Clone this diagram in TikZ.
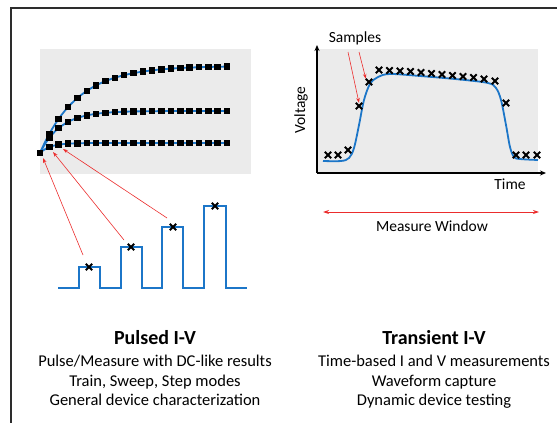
\documentclass[tikz,border=0pt]{standalone}
\usepackage{fontspec}
\setmainfont{Carlito}
\usetikzlibrary{arrows.meta,shapes.misc}
\definecolor{wave}{RGB}{28,118,200}
\definecolor{panel}{RGB}{235,235,235}
\definecolor{redline}{RGB}{235,45,45}
\definecolor{frame}{RGB}{45,45,45}
\begin{document}
\begin{tikzpicture}[x=1pt,y=-1pt,
  sq/.style={rectangle,fill=black,minimum size=6.5pt,inner sep=0pt},
  xm/.style={cross out,draw=black,line width=1.8pt,minimum size=4.5pt,inner sep=0pt},
  wline/.style={wave,line width=1.8pt},
  redarrow/.style={redline,line width=0.6pt,-{Stealth[length=5pt,width=3.5pt]}},
  body/.style={font=\fontsize{16.5}{19.5}\selectfont,align=center},
  ttl/.style={font=\bfseries\fontsize{20}{23}\selectfont},
  lbl/.style={font=\fontsize{15.5}{18}\selectfont}]
\useasboundingbox (0,0) rectangle (557,423);
% frame
\draw[frame,line width=2pt] (11,423) -- (11,8) -- (560,8);
% panels
\fill[panel] (40,49) rectangle (251,174);
\fill[panel] (316,49) rectangle (538,173);
% I-V curves
\draw[wline] plot[domain=0:20,samples=61] ({40+9.35*\x},{153-87*(1-exp(-0.25*\x))});
\draw[wline] plot[domain=0:20,samples=61] ({40+9.35*\x},{153-42*(1-exp(-0.45*\x))});
\draw[wline] plot[domain=0:20,samples=61] ({40+9.35*\x},{153-10*(1-exp(-0.9*\x))});
\foreach \i in {0,...,20}{
  \node[sq] (a\i) at ({40+9.35*\i},{153-87*(1-exp(-0.25*\i))}) {};
  \node[sq] (b\i) at ({40+9.35*\i},{153-42*(1-exp(-0.45*\i))}) {};
  \node[sq] (c\i) at ({40+9.35*\i},{153-10*(1-exp(-0.9*\i))}) {};
}
% pulse train
\draw[wline] (58,288) -- (79,288) -- (79,267) -- (100,267) -- (100,288)
  -- (121,288) -- (121,247) -- (142,247) -- (142,288)
  -- (162,288) -- (162,227) -- (183,227) -- (183,288)
  -- (204,288) -- (204,206) -- (226,206) -- (226,288) -- (247,288);
\node[xm] (p1) at (89,267) {};
\node[xm] (p2) at (131,247) {};
\node[xm] (p3) at (173,227) {};
\node[xm] (p4) at (215,206) {};
\coordinate (t1) at (43,158);
\coordinate (t2) at (53,152);
\coordinate (t3) at (63,149);
\draw[redarrow] (83,255) -- (t1);
\draw[redarrow] (124,240) -- (t2);
\draw[redarrow] (167,218) -- (t3);
% transient plot axes
\coordinate (org) at (317,173);
\coordinate (ytop) at (317,45);
\coordinate (xend) at (546,173);
\draw[black,line width=1.1pt,-{Stealth[length=6pt,width=5pt]}] (org) -- (ytop);
\draw[black,line width=1.1pt,-{Stealth[length=6pt,width=5pt]}] (org) -- (xend);
\node[lbl,rotate=90] (volt) at (301,110) {Voltage};
\node[lbl] (time) at (510,184) {Time};
% waveform
\draw[wline] plot[smooth,tension=0.55] coordinates {(323,161) (341,161) (349,158) (354,148) (359,125) (364,100) (370,84) (378,77) (390,74) (420,76) (460,79.5) (488,83) (496,88) (501,100) (506,125) (510,147) (514,157) (520,159) (538,160)};
% samples
\foreach \n/\px/\py in {1/328/155,2/338/155,3/348/150,4/359/106,5/369/82,
  6/379/70,7/389.5/70.5,8/400/71,9/410.5/71.5,10/421/72.5,11/431.5/73.5,12/442/74.5,13/452.5/75.5,14/463/76.5,15/473.5/77.5,16/484/79,17/495/81,
  18/506/103,19/516/155,20/526/155,21/537/155}{
  \node[xm] (s\n) at (\px,\py) {};
}
\node[lbl] (samp) at (355,38) {Samples};
\coordinate (r1) at (348,52);
\coordinate (r2) at (359,52);
\draw[redarrow] (r1) -- (s4.north);
\draw[redarrow] (r2) -- (s5.north west);
% measure window
\coordinate (mw1) at (323,212);
\coordinate (mw2) at (539,212);
\draw[redline,line width=0.9pt,{Stealth[length=6pt,width=4pt]}-{Stealth[length=6pt,width=4pt]}] (mw1) -- (mw2);
\node[lbl] (mwl) at (432,226) {Measure Window};
% captions
\node[ttl] (pt) at (155,338) {Pulsed I-V};
\node[body,anchor=north] (pb) at (155,352) {Pulse/Measure with DC-like results\\Train, Sweep, Step modes\\General device characterization};
\node[ttl] (tt) at (434,338) {Transient I-V};
\node[body,anchor=north] (tb) at (434,352) {Time-based I and V measurements\\Waveform capture\\Dynamic device testing};
\end{tikzpicture}
\end{document}
